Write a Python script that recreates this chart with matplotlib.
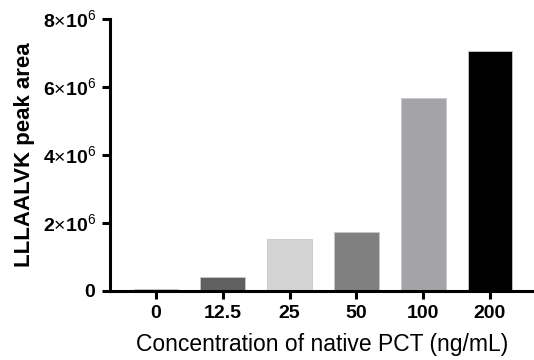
import matplotlib.pyplot as plt

plt.rcParams["font.family"] = "Liberation Sans"
plt.rcParams["mathtext.fontset"] = "custom"
plt.rcParams["mathtext.rm"] = "Liberation Sans"
plt.rcParams["mathtext.bf"] = "Liberation Sans:bold"

# peak area per native PCT concentration
concentrations = ["0", "12.5", "25", "50", "100", "200"]
peak_area = [0.05e6, 0.42e6, 1.52e6, 1.73e6, 5.69e6, 7.05e6]
bar_colors = ["#9a9a9a", "#606060", "#d4d4d4", "#808080", "#a4a3a8", "#000000"]

y_ticks = [0, 2e6, 4e6, 6e6, 8e6]
y_labels = [r"$\mathbf{0}$",
            r"$\mathbf{2}{\times}\mathbf{10}^{6}$",
            r"$\mathbf{4}{\times}\mathbf{10}^{6}$",
            r"$\mathbf{6}{\times}\mathbf{10}^{6}$",
            r"$\mathbf{8}{\times}\mathbf{10}^{6}$"]

fig = plt.figure(figsize=(5.34, 3.6), dpi=100)
ax = fig.add_axes([0.206, 0.192, 0.794, 0.755])

x = range(len(concentrations))
ax.bar(x, peak_area, width=0.67, color=bar_colors, edgecolor="#c8c8c8", linewidth=0.6)

ax.set_xlim(-0.69, 5.66)
ax.set_ylim(0, 8e6)
ax.set_xticks(list(x))
ax.set_xticklabels(concentrations, fontsize=14, fontweight="bold")
ax.set_yticks(y_ticks)
ax.set_yticklabels(y_labels, fontsize=14)

for side in ["top", "right"]:
    ax.spines[side].set_visible(False)
for side in ["left", "bottom"]:
    ax.spines[side].set_linewidth(2.2)
ax.tick_params(width=2.2, length=6, pad=4)

ax.set_xlabel("Concentration of native PCT (ng/mL)", fontsize=16.5, labelpad=8)
ax.set_ylabel("LLLAALVK peak area", fontsize=16, fontweight="bold", labelpad=6)

fig.savefig("out.png", dpi=100)
